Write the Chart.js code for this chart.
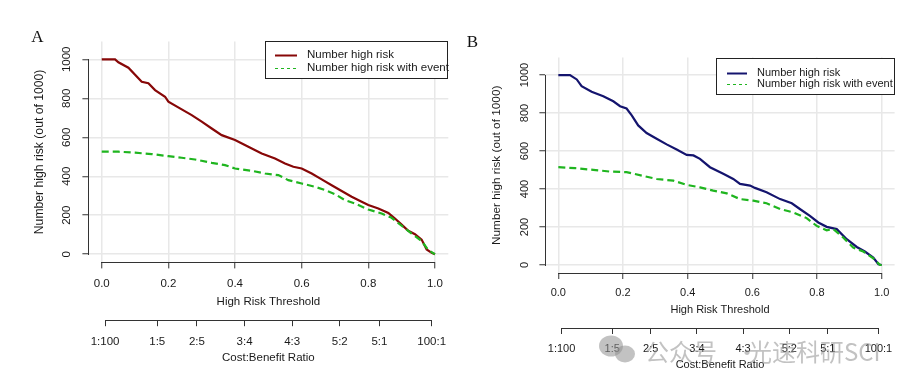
<!DOCTYPE html>
<html><head><meta charset="utf-8">
<script src="https://cdn.jsdelivr.net/npm/chart.js@4.4.1/dist/chart.umd.min.js"></script>
<style>
html,body{margin:0;padding:0;background:#fff;width:918px;height:388px;overflow:hidden}
.panel{position:absolute;top:0;width:459px;height:388px}
#pa{left:0}#pb{left:459px}
</style></head><body>
<div class="panel" id="pa"><canvas id="ca" width="459" height="388"></canvas></div>
<div class="panel" id="pb"><canvas id="cb" width="459" height="388"></canvas></div>
<script>
// ---- data ----
const thresholdTicks = [0, 0.2, 0.4, 0.6, 0.8, 1.0];
const thresholdLabels = ['0.0', '0.2', '0.4', '0.6', '0.8', '1.0'];
const countTicks = [0, 200, 400, 600, 800, 1000];
const costBenefitLabels = ['1:100', '1:5', '2:5', '3:4', '4:3', '5:2', '5:1', '100:1'];
const seriesLabels = ['Number high risk', 'Number high risk with event'];

// Panel A
const aHighRiskX = [0,0.04,0.05,0.08,0.12,0.14,0.16,0.19,0.20,0.24,0.27,0.30,0.33,0.36,0.40,0.44,0.48,0.52,0.55,0.575,0.60,0.63,0.66,0.69,0.72,0.75,0.78,0.80,0.83,0.86,0.88,0.90,0.92,0.94,0.96,0.975,0.99,1.0];
const aHighRiskY = [1000,1000,985,957,885,877,842,808,783,743,714,680,645,611,586,551,517,491,466,449,440,414,384,354,324,295,269,252,235,212,183,152,120,103,75,24,7,0];
const aEventX = [0,0.05,0.10,0.15,0.20,0.24,0.28,0.33,0.37,0.40,0.45,0.49,0.53,0.56,0.60,0.64,0.67,0.70,0.73,0.76,0.80,0.84,0.87,0.90,0.93,0.96,0.98,1.0];
const aEventY = [526,526,521,514,503,495,486,469,457,440,428,414,406,380,363,346,329,308,277,260,229,209,187,146,106,68,21,0];

// Panel B
const bHighRiskX = [0,0.036,0.057,0.072,0.103,0.139,0.170,0.191,0.211,0.227,0.247,0.273,0.304,0.335,0.366,0.397,0.418,0.438,0.469,0.510,0.541,0.562,0.593,0.608,0.644,0.686,0.722,0.747,0.778,0.804,0.830,0.861,0.892,0.923,0.948,0.974,0.990,1.0];
const bHighRiskY = [1000,1000,977,942,912,889,862,836,824,788,735,695,665,635,608,580,577,559,515,480,453,427,418,406,383,347,325,295,259,224,201,189,136,95,71,39,4,0];
const bEventX = [0,0.052,0.108,0.160,0.211,0.258,0.304,0.356,0.397,0.438,0.479,0.521,0.562,0.603,0.644,0.686,0.727,0.768,0.799,0.830,0.851,0.881,0.912,0.943,0.974,0.995,1.0];
const bEventY = [515,510,501,492,489,471,453,444,422,409,392,377,347,339,325,295,277,247,206,183,189,145,92,71,35,0,0];

// ---- helpers ----
const costBenefitTicks = costBenefitLabels.map(l => { const [c, b] = l.split(':').map(Number); return c / (c + b); });
const pts = (xs, ys) => xs.map((x, i) => ({x: x, y: ys[i]}));
const FONT = '"Liberation Sans", Arial, sans-serif';
const TXT = '#1a1a1a';
const AXC = '#333333';
const GREEN = '#1fb51f';

const alignPx = p => Math.round(p - 0.5) + 0.5;

const rAxes = {
  id: 'rAxes',
  afterDraw(chart) {
    const ctx = chart.ctx;
    ctx.save();
    ctx.strokeStyle = AXC; ctx.lineWidth = 1; ctx.setLineDash([]);
    ['x', 'x2'].forEach(id => {
      const s = chart.scales[id]; const t = s.ticks;
      const y = alignPx(s.top);
      ctx.beginPath();
      ctx.moveTo(alignPx(s.getPixelForValue(t[0].value)) - 0.5, y);
      ctx.lineTo(alignPx(s.getPixelForValue(t[t.length - 1].value)) + 0.5, y);
      ctx.stroke();
    });
    const ys = chart.scales.y; const yt = ys.ticks;
    const x = alignPx(ys.right);
    ctx.beginPath();
    ctx.moveTo(x, alignPx(ys.getPixelForValue(yt[0].value)) + 0.5);
    ctx.lineTo(x, alignPx(ys.getPixelForValue(yt[yt.length - 1].value)) - 0.5);
    ctx.stroke();
    ctx.restore();
  }
};

const rLegend = {
  id: 'rLegend',
  afterDraw(chart, args, o) {
    const ca = chart.chartArea, ctx = chart.ctx;
    const L = Math.round(ca.right - o.w), T = Math.round(ca.top);
    ctx.save();
    ctx.fillStyle = '#fff'; ctx.fillRect(L, T, o.w, o.h);
    ctx.strokeStyle = '#222'; ctx.lineWidth = 1; ctx.setLineDash([]);
    ctx.strokeRect(L + 0.5, T + 0.5, o.w - 1, o.h - 1);
    chart.data.datasets.forEach((ds, i) => {
      const y = T + o.rows[i];
      ctx.beginPath();
      const dashed = !!ds.borderDash;
      ctx.setLineDash(dashed ? [3, 3] : []);
      ctx.lineWidth = dashed ? 1 : 2;
      ctx.strokeStyle = ds.borderColor;
      ctx.moveTo(L + o.s0, y + 0.5); ctx.lineTo(L + o.s1, y + 0.5); ctx.stroke();
      ctx.setLineDash([]);
      ctx.fillStyle = TXT; ctx.font = o.fs + 'px ' + FONT;
      ctx.textBaseline = 'middle'; ctx.textAlign = 'left';
      ctx.fillText(ds.label, L + o.tx, y);
    });
    ctx.restore();
  }
};

const panelLetter = {
  id: 'panelLetter',
  afterDraw(chart, args, o) {
    const ctx = chart.ctx;
    ctx.save();
    ctx.fillStyle = '#111'; ctx.font = '17px "Liberation Serif", "Times New Roman", serif';
    ctx.textAlign = 'center'; ctx.textBaseline = 'middle';
    ctx.fillText(o.text, o.x, o.y);
    if (o.watermark) {
      ctx.globalAlpha = 0.55;
      ctx.fillStyle = '#8f8f8f';
      ctx.beginPath(); ctx.ellipse(152, 346, 12, 10.5, 0, 0, Math.PI * 2); ctx.fill();
      ctx.beginPath(); ctx.ellipse(166, 354, 10, 8.5, 0, 0, Math.PI * 2); ctx.fill();
      ctx.font = '24px "Noto Sans CJK SC", sans-serif';
      ctx.textAlign = 'left'; ctx.textBaseline = 'middle';
      ctx.fillText('公众号', 186, 352);
      ctx.fillText('·', 276, 352);
      ctx.fillText('光速科研SCI', 289, 352);
    }
    ctx.restore();
  }
};

function makePanel(id, s) {
  const tickFont = {family: FONT, size: s.fs};
  new Chart(document.getElementById(id), {
    type: 'scatter',
    data: {
      datasets: [
        {label: seriesLabels[0], data: pts(s.x1, s.y1), showLine: true, borderColor: s.color, borderWidth: 2.2, pointRadius: 0, order: 1, tension: 0},
        {label: seriesLabels[1], data: pts(s.x2, s.y2), showLine: true, borderColor: GREEN, borderWidth: 2.2, borderDash: [7, 4], pointRadius: 0, order: 0, tension: 0}
      ]
    },
    options: {
      responsive: false, animation: false, devicePixelRatio: 1,
      layout: {padding: s.pad},
      plugins: {
        legend: {display: false}, tooltip: {enabled: false},
        rLegend: s.legend,
        panelLetter: s.letter
      },
      scales: {
        x: {
          type: 'linear', position: 'bottom', min: -0.04, max: 1.04, weight: 0,
          afterBuildTicks: sc => { sc.ticks = thresholdTicks.map(v => ({value: v})); },
          afterFit: sc => { sc.height = s.xH; },
          ticks: {autoSkip: false, maxRotation: 0, minRotation: 0, padding: s.xTP, color: TXT, font: tickFont,
                  callback: (v, i) => thresholdLabels[i]},
          grid: {color: '#e8e8e8', lineWidth: 1.5, tickColor: AXC, tickWidth: 1, tickLength: 6, drawTicks: true},
          border: {display: false},
          title: {display: true, text: 'High Risk Threshold', color: TXT, font: tickFont, padding: {top: 0, bottom: s.xTB}}
        },
        x2: {
          type: 'linear', axis: 'x', position: 'bottom', min: -0.04, max: 1.04, weight: 1,
          afterBuildTicks: sc => { sc.ticks = costBenefitTicks.map(v => ({value: v})); },
          afterFit: sc => { sc.height = s.x2H; },
          ticks: {autoSkip: false, maxRotation: 0, minRotation: 0, padding: s.x2TP, color: TXT, font: tickFont,
                  callback: (v, i) => costBenefitLabels[i]},
          grid: {drawOnChartArea: false, tickColor: AXC, tickWidth: 1, tickLength: 6, drawTicks: true},
          border: {display: false},
          title: {display: true, text: 'Cost:Benefit Ratio', color: TXT, font: tickFont, padding: {top: 0, bottom: s.x2TB}}
        },
        y: {
          type: 'linear', position: 'left', min: -42, max: 1092,
          afterBuildTicks: sc => { sc.ticks = countTicks.map(v => ({value: v})); },
          afterFit: sc => { sc.width = s.yW; },
          ticks: {autoSkip: false, minRotation: 90, maxRotation: 90, crossAlign: 'center', padding: s.yTP, color: TXT, font: tickFont,
                  callback: v => String(v)},
          grid: {color: '#e8e8e8', lineWidth: 1.5, tickColor: AXC, tickWidth: 1, tickLength: 6, drawTicks: true},
          border: {display: false},
          title: {display: true, text: 'Number high risk (out of 1000)', color: TXT, font: {family: FONT, size: s.yfs}, padding: {top: s.yTT, bottom: 0}}
        }
      }
    },
    plugins: [rAxes, rLegend, panelLetter]
  });
}

makePanel('ca', {
  x1: aHighRiskX, y1: aHighRiskY, x2: aEventX, y2: aEventY, color: '#870707',
  fs: 11.5, yfs: 12.2,
  pad: {left: 20, top: 41.4, right: 10.7, bottom: 20.8},
  yW: 68.4, yTP: 2.6, yTT: 12.7,
  xH: 57.8, xTP: 9, xTB: 11.1,
  x2H: 47, x2TP: 9, x2TB: 2.1,
  legend: {w: 183, h: 38, s0: 10, s1: 32, tx: 42, rows: [14, 27], fs: 11.5},
  letter: {text: 'A', x: 37.5, y: 37.5, watermark: false}
});

makePanel('cb', {
  x1: bHighRiskX, y1: bHighRiskY, x2: bEventX, y2: bEventY, color: '#14146e',
  fs: 11, yfs: 11.8,
  pad: {left: 20, top: 57.6, right: 23.4, bottom: 15},
  yW: 66.4, yTP: 2.2, yTT: 11.0,
  xH: 55, xTP: 7.4, xTB: 11.4,
  x2H: 45, x2TP: 8.4, x2TB: 1.4,
  legend: {w: 179, h: 37, s0: 11, s1: 31, tx: 41, rows: [15, 26], fs: 11},
  letter: {text: 'B', x: 13.5, y: 43, watermark: true}
});
</script>
</body></html>
